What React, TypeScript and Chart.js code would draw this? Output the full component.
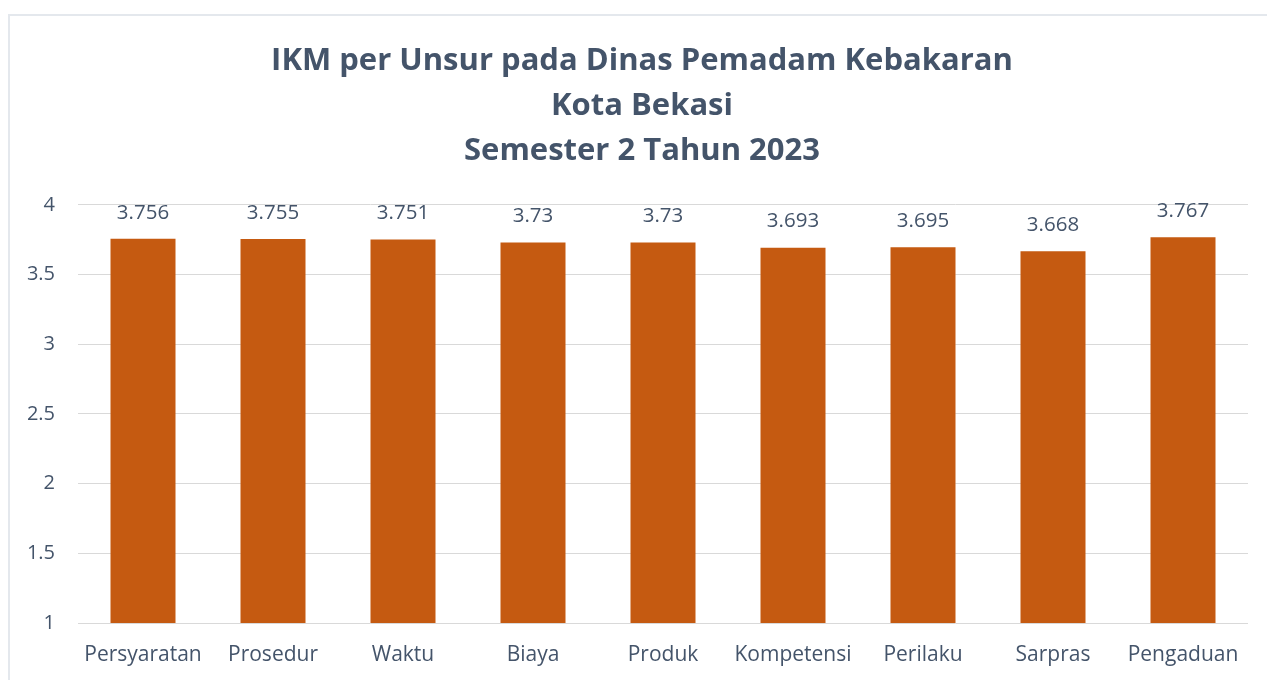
import React, { useEffect, useRef } from "react";
import { Chart, registerables } from "chart.js";

Chart.register(...registerables);

const categories = ["Persyaratan", "Prosedur", "Waktu", "Biaya", "Produk", "Kompetensi", "Perilaku", "Sarpras", "Pengaduan"];
const values = [3.756, 3.755, 3.751, 3.73, 3.73, 3.693, 3.695, 3.668, 3.767];
const yTickValues = [1, 1.5, 2, 2.5, 3, 3.5, 4];
const titleLines = ["IKM per Unsur pada Dinas Pemadam Kebakaran", "Kota Bekasi", "Semester 2 Tahun 2023"];

const FONT = "'Open Sans', sans-serif";
const TEXT = "#44546A";

const valueLabels = {
  id: "valueLabels",
  afterDatasetsDraw(chart: any) {
    const ctx = chart.ctx;
    const meta = chart.getDatasetMeta(0);
    ctx.save();
    ctx.font = `20.5px ${FONT}`;
    ctx.fillStyle = TEXT;
    ctx.textAlign = "center";
    ctx.textBaseline = "middle";
    meta.data.forEach((bar: any, i: number) => {
      ctx.fillText(String(values[i]), bar.x, bar.y - 26);
    });
    ctx.restore();
  },
};

const shiftTitle = {
  id: "shiftTitle",
  afterLayout(chart: any) {
    const t = chart.titleBlock;
    if (t) {
      t.left += 8;
      t.right += 8;
    }
  },
};

export default function App() {
  const ref = useRef<HTMLCanvasElement>(null);
  useEffect(() => {
    const chart = new Chart(ref.current!, {
      type: "bar",
      data: {
        labels: categories,
        datasets: [
          {
            data: values,
            backgroundColor: "#C55A11",
            categoryPercentage: 1,
            barPercentage: 0.5,
          },
        ],
      },
      options: {
        animation: false,
        responsive: false,
        layout: { padding: { left: 20, right: 19, top: 39, bottom: 0 } },
        plugins: {
          legend: { display: false },
          tooltip: { enabled: false },
          title: {
            display: true,
            text: titleLines,
            color: TEXT,
            font: { family: FONT, size: 31, weight: "bold", lineHeight: 1.45 },
            padding: { top: 0, bottom: 31 },
          },
        },
        scales: {
          x: {
            afterFit: (s: any) => {
              s.height = 57;
            },
            grid: { display: false, drawTicks: false },
            border: { display: false },
            ticks: { color: TEXT, font: { family: FONT, size: 21 }, padding: 19, maxRotation: 0, autoSkip: false },
          },
          y: {
            min: 1,
            max: 4,
            afterFit: (s: any) => {
              s.width = 58;
            },
            afterBuildTicks: (s: any) => {
              s.ticks = yTickValues.map((v) => ({ value: v }));
            },
            grid: { color: "#D9D9D9", drawTicks: false, lineWidth: 1 },
            border: { display: false },
            ticks: {
              color: TEXT,
              font: { family: FONT, size: 20 },
              padding: 23,
              callback: (v: any) => String(v),
            },
          },
        },
      },
      plugins: [valueLabels, shiftTitle],
    });
    return () => chart.destroy();
  }, []);
  return (
    <div style={{ position: "fixed", left: 0, top: 0, width: 1267, height: 680, background: "#fff", overflow: "hidden" }}>
      <div style={{ position: "absolute", left: 8, top: 14, width: 1300, height: 700, border: "2px solid #E4E8ED" }} />
      <canvas ref={ref} width={1267} height={680} style={{ position: "absolute", left: 0, top: 0 }} />
    </div>
  );
}
